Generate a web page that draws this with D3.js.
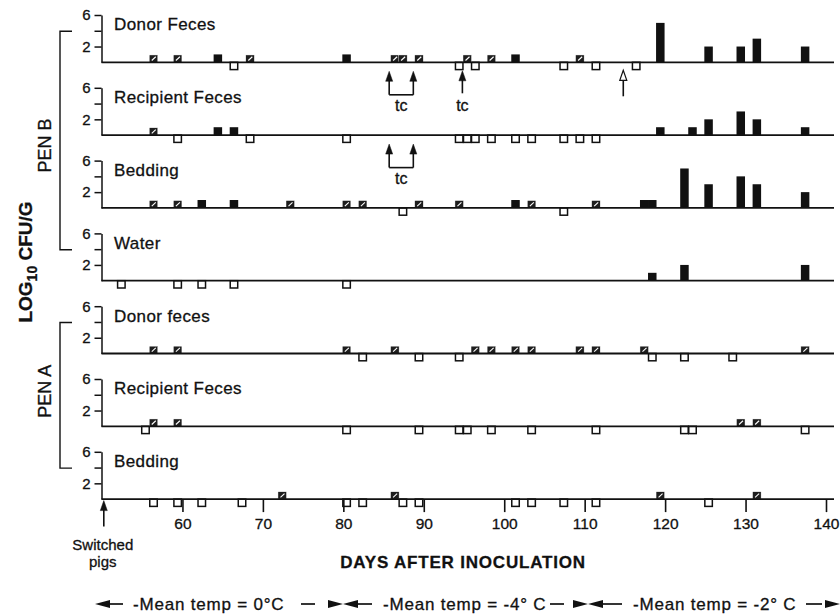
<!DOCTYPE html>
<html>
<head>
<meta charset="utf-8">
<script src="https://cdn.jsdelivr.net/npm/d3@7"></script>
<style>
body { margin: 0; background: #fff; }
text { font-family: "Liberation Sans", Arial, Helvetica, sans-serif; fill: #111; stroke: #111; stroke-width: 0.3; }
</style>
</head>
<body>
<svg id="chart" width="840" height="614"></svg>
<script>
// panels top to bottom
var panelNames = ["Donor Feces", "Recipient Feces", "Bedding", "Water", "Donor feces", "Recipient Feces", "Bedding"];
var pens = [{name: "PEN B", first: 0, last: 3, nudge: 5}, {name: "PEN A", first: 4, last: 6, nudge: -4}];

// open squares below the line (culture negative)
var negDays = [
  [66, 94, 96, 107, 111, 116],
  [59, 68, 80, 94, 95, 96, 98, 101, 103, 107, 109, 111],
  [87, 107],
  [52, 59, 62, 66, 80],
  [82, 89, 94, 118, 122, 128],
  [55, 80, 89, 94, 95, 98, 103, 111, 122, 123, 137],
  [56, 59, 62, 67, 80, 82, 87, 89, 101, 103, 107, 111, 125]
];
// hatched squares (positive by enrichment only)
var enrDays = [
  [56, 59, 68, 86, 87, 89, 95, 98, 109],
  [56],
  [56, 59, 73, 80, 82, 89, 94, 103, 111],
  [],
  [56, 59, 80, 86, 96, 98, 101, 103, 109, 111, 117, 137],
  [56, 59, 129, 131],
  [72, 86, 119, 131]
];
// solid bars: [day, log10 cfu/g]
var counts = [
  [[64, 1], [80, 1], [101, 1], [119, 5], [125, 2], [129, 2], [131, 3], [137, 2]],
  [[64, 1], [66, 1], [119, 1], [123, 1], [125, 2], [129, 3], [131, 2], [137, 1]],
  [[62, 1], [66, 1], [101, 1], [117, 1], [118, 1], [122, 5], [125, 3], [129, 4], [131, 3], [137, 2]],
  [[118, 1], [122, 2], [137, 2]],
  [], [], []
];

var xTicks = [60, 70, 80, 90, 100, 110, 120, 130, 140];
var yTicks = [2, 4, 6];
var yLabeled = [2, 6];

// tetracycline marks: [panel, day1, day2]
var tcPairs = [[0, 85.7, 88.7], [1, 85.7, 88.7]];
var tcSingles = [[0, 94.8]];
var openArrows = [[0, 114.8]];
var switchDay = 50.1;

var tempLabels = ["-Mean temp = 0\u00b0C", "-Mean temp = -4\u00b0 C", "-Mean temp = -2\u00b0 C"];

var svg = d3.select("#chart");
var ink = "#111";

var x = d3.scaleLinear().domain([50, 140]).range([102, 826]);
var top0 = 62.3, step = 72.8, panelH = 47.3;
var barW = 8.5;
function base(i) { return top0 + i * step; }

panelNames.forEach(function(name, i) {
  var b = base(i);
  var y = d3.scaleLinear().domain([0, 6]).range([b, b - panelH]);
  var g = svg.append("g");

  var axis = d3.axisLeft(y).tickValues(yTicks).tickSize(7).tickSizeOuter(0).tickPadding(4)
    .tickFormat(function(d) { return yLabeled.indexOf(d) >= 0 ? d : ""; });
  var ax = g.append("g").attr("transform", "translate(101.5,0)").call(axis);
  ax.selectAll("path, line").attr("stroke", ink).attr("stroke-width", 1.5);
  ax.selectAll("text").attr("font-size", 15).attr("font-family", null).attr("fill", ink);

  g.append("text").attr("x", 114).attr("y", b - 32)
    .attr("font-size", 17).attr("letter-spacing", 0.4).text(name);

  // open squares below
  g.selectAll(".neg").data(negDays[i]).enter().append("rect")
    .attr("x", function(d) { return x(d) - 0.5; })
    .attr("y", b)
    .attr("width", barW - 1).attr("height", 7.3)
    .attr("fill", "#fff").attr("stroke", ink).attr("stroke-width", 1.5);

  // solid bars
  g.selectAll(".cnt").data(counts[i]).enter().append("rect")
    .attr("x", function(d) { return x(d[0]) - 1; })
    .attr("y", function(d) { return y(d[1]); })
    .attr("width", barW)
    .attr("height", function(d) { return b - y(d[1]); })
    .attr("fill", ink);

  // hatched squares
  var hq = g.selectAll(".enr").data(enrDays[i]).enter().append("g");
  hq.append("rect")
    .attr("x", function(d) { return x(d) - 1; })
    .attr("y", y(0.93))
    .attr("width", barW).attr("height", b - y(0.93))
    .attr("fill", "#1e1e1e").attr("stroke", "#fff").attr("stroke-width", 0.4);
  hq.append("line")
    .attr("x1", function(d) { return x(d) + 1.5; })
    .attr("x2", function(d) { return x(d) + 5.5; })
    .attr("y1", b - 1.8).attr("y2", y(0.93) + 1.8)
    .attr("stroke", "#fff").attr("stroke-width", 1.1);

  // baseline
  g.append("line").attr("x1", 101.5).attr("x2", 834).attr("y1", b).attr("y2", b)
    .attr("stroke", ink).attr("stroke-width", 1.8);
});

// x axis on the last panel
var bLast = base(panelNames.length - 1);
var xa = svg.append("g").attr("transform", "translate(0," + bLast + ")")
  .call(d3.axisBottom(x).tickValues(xTicks).tickSize(13).tickSizeOuter(0).tickPadding(6));
xa.select(".domain").remove();
xa.selectAll("line").attr("stroke", ink).attr("stroke-width", 1.6);
xa.selectAll("text").attr("font-size", 15.5).attr("font-family", null).attr("fill", ink);

// arrows
function arrow(xp, yTip, yBot, filled) {
  svg.append("line").attr("x1", xp).attr("x2", xp).attr("y1", yTip + 8).attr("y2", yBot)
    .attr("stroke", ink).attr("stroke-width", 1.6);
  svg.append("path")
    .attr("d", "M" + xp + "," + yTip + "L" + (xp - 3.5) + "," + (yTip + 10) + "L" + (xp + 3.5) + "," + (yTip + 10) + "Z")
    .attr("fill", filled ? ink : "#fff").attr("stroke", ink).attr("stroke-width", filled ? 0.5 : 1.2);
}

tcPairs.forEach(function(t) {
  var b = base(t[0]), x1 = x(t[1]), x2 = x(t[2]);
  arrow(x1, b + 9, b + 32.5, true);
  arrow(x2, b + 9, b + 32.5, true);
  svg.append("line").attr("x1", x1).attr("x2", x2).attr("y1", b + 32.5).attr("y2", b + 32.5)
    .attr("stroke", ink).attr("stroke-width", 1.6);
  svg.append("text").attr("x", (x1 + x2) / 2).attr("y", b + 49)
    .attr("text-anchor", "middle").attr("font-size", 16).text("tc");
});
tcSingles.forEach(function(t) {
  var b = base(t[0]);
  arrow(x(t[1]), b + 8.5, b + 31, true);
  svg.append("text").attr("x", x(t[1])).attr("y", b + 49)
    .attr("text-anchor", "middle").attr("font-size", 16).text("tc");
});
openArrows.forEach(function(t) {
  var b = base(t[0]);
  arrow(x(t[1]), b + 8, b + 34, false);
});

// switched pigs
arrow(x(switchDay) + 1, bLast + 1.5, bLast + 27.5, true);
svg.append("text").attr("x", x(switchDay)).attr("y", bLast + 51)
  .attr("text-anchor", "middle").attr("font-size", 15).text("Switched");
svg.append("text").attr("x", x(switchDay)).attr("y", bLast + 68)
  .attr("text-anchor", "middle").attr("font-size", 15).text("pigs");

// pen brackets
pens.forEach(function(p) {
  var y1 = base(p.first) - 31, y2 = base(p.last) - 31;
  svg.append("path").attr("d", "M72," + y1 + "H60V" + y2 + "H72")
    .attr("fill", "none").attr("stroke", ink).attr("stroke-width", 1.4);
  svg.append("text").attr("transform", "translate(51," + ((y1 + y2) / 2 + p.nudge) + ") rotate(-90)")
    .attr("text-anchor", "middle").attr("font-size", 18).text(p.name);
});

// y title
var yt = svg.append("text").attr("transform", "translate(32,262) rotate(-90)")
  .attr("text-anchor", "middle").attr("font-size", 19).attr("font-weight", "bold");
yt.append("tspan").text("LOG");
yt.append("tspan").attr("dy", 5).attr("font-size", 14).text("10");
yt.append("tspan").attr("dy", -5).text(" CFU/G");

// x title
svg.append("text").attr("x", 463).attr("y", 568).attr("text-anchor", "middle")
  .attr("font-size", 17).attr("font-weight", "bold").attr("letter-spacing", 0.8)
  .text("DAYS AFTER INOCULATION");

// temperature legend
var ly = 604;
function headL(tip) {
  svg.append("path").attr("d", "M" + tip + "," + ly + "L" + (tip + 15) + "," + (ly - 4) + "L" + (tip + 15) + "," + (ly + 4) + "Z").attr("fill", ink);
}
function headR(tip) {
  svg.append("path").attr("d", "M" + tip + "," + ly + "L" + (tip - 15) + "," + (ly - 4) + "L" + (tip - 15) + "," + (ly + 4) + "Z").attr("fill", ink);
}
function dash(a, b2) {
  svg.append("line").attr("x1", a).attr("x2", b2).attr("y1", ly).attr("y2", ly)
    .attr("stroke", ink).attr("stroke-width", 1.7);
}
headL(95); dash(108, 123);
dash(301, 315); headR(343); headL(343); dash(356, 372);
dash(550, 564); headR(588); headL(588); dash(601, 622);
dash(806, 822); headR(840);
[133, 383, 633].forEach(function(xp, i) {
  svg.append("text").attr("x", xp).attr("y", 610).attr("font-size", 17)
    .attr("letter-spacing", 0.8).text(tempLabels[i]);
});
</script>
</body>
</html>
